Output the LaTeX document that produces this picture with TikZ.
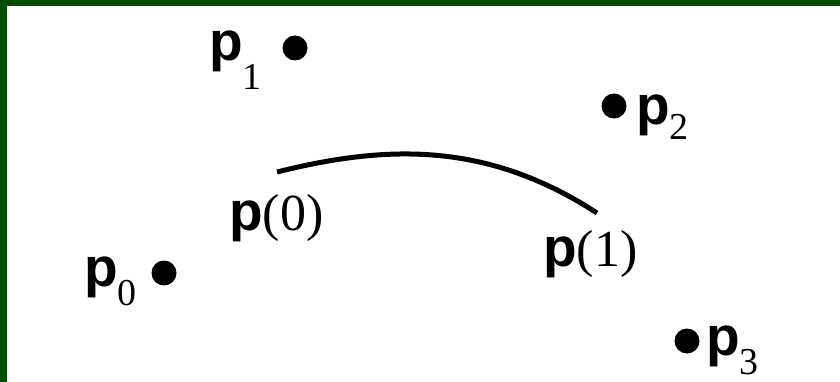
\documentclass[tikz,border=0pt]{standalone}
\usepackage{fontspec}
\setmainfont{Liberation Serif}
\newfontfamily\ptfont{Liberation Sans}
\definecolor{framegreen}{RGB}{0,78,0}

\newcommand{\pbold}{{\ptfont\fontsize{55}{58}\selectfont\bfseries p}}
% control point name: bold p with a lowered index
\newcommand{\ctrlname}[2]{\pbold\raisebox{-#2pt}{\fontsize{38}{42}\selectfont #1}}

\tikzset{
  ctrl dot/.style={circle, fill=black, inner sep=0pt, minimum size=25pt},
  pt label/.style={inner sep=0pt, anchor=base west, font=\fontsize{52}{56}\selectfont},
  segment/.style={line width=5pt},
}

\begin{document}
\begin{tikzpicture}[x=1pt, y=-1pt]

    % Frame
    \useasboundingbox (0,0) rectangle (840,382);
    \fill[white] (0,0) rectangle (840,382);
    \fill[framegreen] (0,0) rectangle (840,6);
    \fill[framegreen] (0,0) rectangle (7,382);

    % Control points
    \foreach \i/\x/\y in {0/164/273, 1/295/48, 2/614/106, 3/687/341}
        \node[ctrl dot] (dot\i) at (\x,\y) {};

    % Control point labels
    \node[pt label] (lab0) at (84,286) {\ctrlname{0}{19}};
    \node[pt label] (lab1) at (209,61) {\ctrlname{1}{29}};
    \node[pt label] (lab2) at (636,125) {\ctrlname{2}{15}};
    \node[pt label] (lab3) at (706,355) {\ctrlname{3}{19}};

    % Curve segment
    \coordinate (c0) at (277,172);
    \coordinate (c1) at (597,213);
    \draw[segment] (c0) .. controls (387,144.5) and (487,141.5) .. (c1);

    % End point labels
    \node[pt label] (start) at (229,230) {\pbold(0)};
    \node[pt label] (end) at (543,266) {\pbold(1)};

\end{tikzpicture}
\end{document}
